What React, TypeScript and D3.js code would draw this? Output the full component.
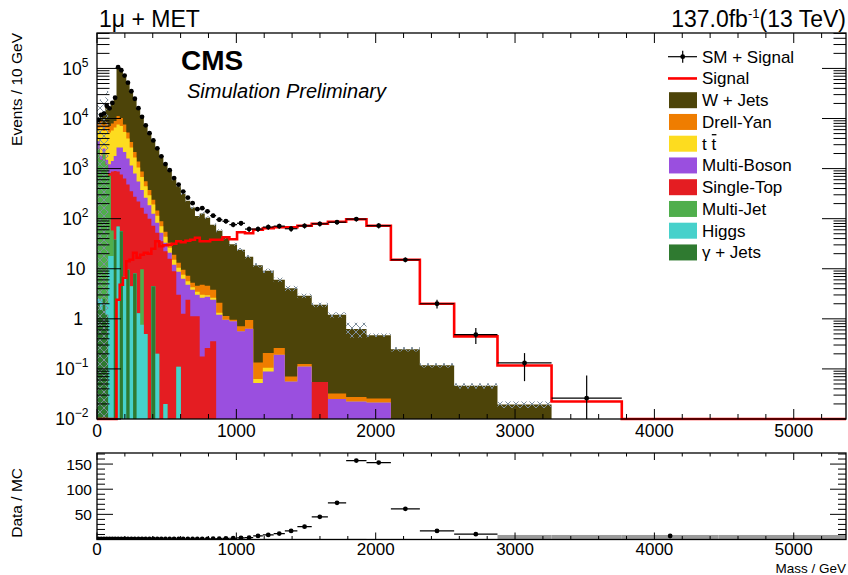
import React from "react";
import * as d3 from "d3";

// Variable-width mass bins in GeV; the last bin only carries the empty tail.
const binEdges = [
  0, 20, 40, 60, 80, 100, 120, 140, 163, 186,
  210, 234, 259, 284, 310, 336, 363, 390, 418, 447,
  476, 506, 537, 569, 602, 635, 669, 703, 737, 773,
  812, 855, 900, 950, 1005, 1062, 1121, 1190, 1268, 1348,
  1438, 1541, 1657, 1788, 1934, 2109, 2317, 2563, 2874, 3262,
  3766, 4460, 5375,
];

// Background processes, events / 10 GeV per bin
const wJets = [
  1607, 3110, 3634, 9465, 9517, 12010, 17390, 95932, 80968, 64858,
  47233, 32093, 22409, 14838, 9844, 6682, 4757, 3391, 2367, 1649,
  1147, 870, 595, 431, 303, 220, 161, 108, 122, 100,
  72.2, 55.4, 40.5, 29.9, 23.3, 16.4, 11.6, 8.91, 5.77, 4.0,
  2.76, 1.85, 1.17, 0.6, 0.447, 0.2475, 0.118, 0.046, 0.0195, 0,
  0, 0,
];
const drellYan = [
  1630, 2306, 1963, 2008, 1831, 2189, 2306, 3634, 3154, 2216,
  1267, 758, 478, 333, 195, 115, 77, 49, 30, 18.3,
  11.3, 6.8, 4.0, 2.7, 1.96, 1.62, 0.98, 1.1, 1.77, 1.62,
  1.17, 0.77, 0.19, 0.064, 0.146, 0.32, 0.072, 0.104, 0.072, 0.0146,
  0.014, 0, 0.0073, 0.0051, 0.0043, 0, 0, 0, 0, 0,
  0, 0,
];
const ttbar = [
  2760, 4800, 3111, 4800, 4030, 4341, 4829, 4956, 4449, 3232,
  2396, 1482, 866, 497, 304, 184, 109, 65, 31.8, 18.3,
  10.6, 5.4, 3.1, 1.8, 1.28, 0.83, 0.47, 0.45, 0.39, 0.2,
  0.23, 0.12, 0, 0, 0, 0, 0.0106, 0.016, 0, 0,
  0, 0, 0, 0, 0, 0, 0, 0, 0, 0,
  0, 0,
];
const multiBoson = [
  1045, 300, 510, 300, 400, 542, 887, 1759, 1871, 1507,
  1106, 793, 519, 331, 206, 137, 86, 53.6, 30.7, 17,
  10.7, 5.1, 3.1, 5.7, 5.05, 2.39, 2.68, 1.9, 2.45, 2.49,
  2.04, 1.2, 0.955, 0.891, 0.562, 0.631, 0.0525, 0.0891, 0.191, 0.0562,
  0.112, 0, 0.0251, 0.0224, 0.0214, 0, 0, 0, 0, 0,
  0, 0,
];
const singleTop = [
  0, 0, 0, 0, 100, 813, 853, 801, 703, 624,
  470, 350, 267, 218, 156, 125, 100, 68, 52.3, 35.5,
  22.4, 15.8, 8.9, 2.9, 1.26, 2.4, 1.12, 1.12, 0.178, 0.263,
  0.355, 0, 0, 0, 0, 0, 0, 0, 0, 0,
  0, 0.055, 0, 0, 0, 0, 0, 0, 0, 0,
  0, 0,
];
const multiJet = [
  2500, 1500, 2000, 1200, 700, 40, 0, 0, 0, 0,
  0, 0, 0, 0, 9, 0, 0, 0, 0, 0,
  0, 0, 0, 0, 0, 0, 0, 0, 0, 0,
  0, 0, 0, 0, 0, 0, 0, 0, 0, 0,
  0, 0, 0, 0, 0, 0, 0, 0, 0, 0,
  0, 0,
];
const higgs = [
  0.5, 1, 0, 0.8, 18, 18, 0, 70, 0, 7,
  0, 4.5, 0, 1.3, 0.76, 0.5, 0, 0, 0.2, 0,
  0.02, 0, 0, 0.11, 0, 0, 0, 0, 0, 0,
  0, 0, 0, 0, 0, 0, 0, 0, 0, 0,
  0, 0, 0, 0, 0, 0, 0, 0, 0, 0,
  0, 0,
];
const gammaJets = [
  2, 1.5, 2.5, 1.2, 0, 0, 38, 0, 56, 0,
  9.5, 0, 8, 0, 0, 0, 0, 4.5, 0, 0,
  0, 0, 0, 0, 0, 0, 0, 0, 0, 0,
  0, 0, 0, 0, 0, 0, 0, 0, 0, 0,
  0, 0, 0, 0, 0, 0, 0, 0, 0, 0,
  0, 0,
];

// Relative MC uncertainty per bin
const mcRelErr = [
  1.0, 1.0, 1.0, 1.0, 0.1, 0.08, 0.06, 0.02, 0.03, 0.03,
  0.03, 0.03, 0.03, 0.03, 0.03, 0.03, 0.03, 0.03, 0.03, 0.04,
  0.04, 0.04, 0.05, 0.05, 0.05, 0.05, 0.05, 0.06, 0.06, 0.06,
  0.06, 0.07, 0.07, 0.07, 0.08, 0.08, 0.1, 0.1, 0.1, 0.12,
  0.1, 0.1, 0.12, 0.33, 0.08, 0.1, 0.1, 0.12, 0.15, 0,
  0, 0,
];

// Signal template, events / 10 GeV
const signal = [
  0, 0, 0, 0, 0, 0, 0, 2.4, 4.8, 6.6,
  14.1, 15.1, 20.9, 16.6, 19.1, 20.9, 20, 25.1, 35.5, 28.2,
  29.5, 30.2, 31.6, 35.5, 33.9, 36.3, 38, 41.7, 35.5, 35.5,
  38, 38, 42.7, 38.9, 53.7, 51.3, 60.3, 64.6, 67.6, 67.6,
  72.4, 79.4, 87.1, 97.7, 72.4, 15.1, 2.0, 0.447, 0.117, 0.0224,
  0.004, 0,
];

// Pseudo-data: SM + Signal, with its uncertainty
const smPlusSignal = [
  9400, 11800, 12500, 18000, 16000, 20500, 26000, 106000, 92000, 72000,
  52000, 35000, 24800, 16100, 10800, 7300, 5100, 3650, 2540, 1760,
  1230, 930, 646, 479, 347, 263, 204, 155, 162, 140,
  115, 95.5, 89, 76, 81, 62, 62, 68, 71, 63,
  72, 79, 85, 98, 72.4, 15.1, 2.0, 0.483, 0.132, 0.026,
  0, 0,
];
const smPlusSignalErr = [
  97, 109, 112, 134, 126, 143, 161, 326, 303, 268,
  228, 187, 157, 127, 104, 85, 71, 60, 50, 42,
  35, 30, 25, 22, 19, 16, 14, 12, 13, 12,
  11, 10, 9.4, 8.7, 9, 7.9, 7.9, 8.2, 8.4, 7.9,
  8.5, 8.9, 9.2, 9.9, 8.5, 1.6, 0.4, 0.17, 0.075, 0.048,
  0, 0,
];

// Data / MC ratio (null where it is not drawn), its error and the band half-width
const ratioValues: (number | null)[] = [
  1.0, 0.98, 1.1, 1.01, 0.96, 1.03, 0.99, 0.99, 1.0, 0.99,
  0.99, 0.98, 1.01, 0.99, 1.01, 1.01, 1.0, 1.01, 1.01, 1.01,
  1.02, 1.03, 1.05, 1.08, 1.11, 1.16, 1.23, 1.37, 1.28, 1.34,
  1.51, 1.66, 2.13, 2.46, 3.37, 3.56, 7.1, 9.1, 11.8, 17,
  25.6, 45, 73, 157, 153, 61, 17, 10.5, null, null,
  7, null,
];
const ratioErr = [
  0.05, 0.05, 0.05, 0.05, 0.05, 0.05, 0.05, 0.05, 0.05, 0.05,
  0.05, 0.05, 0.05, 0.05, 0.05, 0.05, 0.05, 0.05, 0.05, 0.05,
  0.05, 0.05, 0.05, 0.05, 0.05, 0.05, 0.05, 0.1, 0.1, 0.1,
  0.1, 0.1, 0.15, 0.2, 0.25, 0.3, 0.6, 0.7, 0.9, 1.2,
  1.6, 2.2, 2.5, 2.8, 2.6, 1.6, 1.4, 1.4, 0, 0,
  1.0, 0,
];
const ratioBandHalf = [
  1.0, 1.0, 1.0, 1.0, 0.1, 0.08, 0.06, 0.02, 0.03, 0.03,
  0.03, 0.03, 0.03, 0.03, 0.03, 0.03, 0.03, 0.03, 0.03, 0.04,
  0.04, 0.04, 0.05, 0.05, 0.05, 0.05, 0.05, 0.06, 0.06, 0.06,
  0.06, 0.07, 0.07, 0.07, 0.08, 0.08, 0.1, 0.1, 0.1, 0.12,
  0.1, 0.1, 0.12, 0.33, 0.08, 0.1, 0.1, 0.12, 8, 8,
  8, 8,
];

// Processes in legend order (top of the stack first)
const processNames = ["W + Jets", "Drell-Yan", "t t", "Multi-Boson", "Single-Top", "Multi-Jet", "Higgs", "γ + Jets"];
const processColors = ["#4d4409", "#ef7d00", "#fddc1f", "#9a4fdf", "#e41d22", "#4fae4c", "#47d1cb", "#2f7a30"];
const processValues = [wJets, drellYan, ttbar, multiBoson, singleTop, multiJet, higgs, gammaJets];

const yExponents = [-2, -1, 0, 1, 2, 3, 4, 5];
const xMajorTicks = [0, 1000, 2000, 3000, 4000, 5000];
const ratioMajorTicks = [50, 100, 150];

const FONT = "'Liberation Sans', Arial, Helvetica, sans-serif";

type Pt = { x: number; y: number };

export default function App() {
  const left = 97, right = 846;
  const mainTop = 33, mainBottom = 419;
  const ratioTop = 453, ratioBottom = 539.5;
  const yMin = 0.01;

  const x = d3.scaleLinear().domain([0, 5375]).range([left, right]);
  const y = d3.scaleLog().domain([yMin, 5.1e5]).range([mainBottom, mainTop]);
  const yr = d3.scaleLinear().domain([0, 172]).range([ratioBottom, ratioTop]);

  const nBins = binEdges.length - 1;
  const bins = d3.range(nBins);
  const center = (i: number) => (binEdges[i] + binEdges[i + 1]) / 2;

  // cumulative stack, bottom-up (gamma+jets first)
  const stackOrder = [...processValues.keys()].reverse();
  const cumulative: number[][] = [];
  const running = new Array(nBins).fill(0);
  stackOrder.forEach((p) => {
    bins.forEach((i) => (running[i] += processValues[p][i]));
    cumulative[p] = running.slice();
  });
  const totalMC = cumulative[0];

  const yClamp = (v: number) => (v > yMin ? Math.max(y(v), mainTop - 4) : mainBottom);
  const stepPoints = (vals: number[]): Pt[] =>
    vals.flatMap((v, i) => [
      { x: x(binEdges[i]), y: yClamp(v) },
      { x: x(binEdges[i + 1]), y: yClamp(v) },
    ]);
  const area = d3.area<Pt>().x((d) => d.x).y0(mainBottom).y1((d) => d.y);
  const line = d3.line<Pt>().x((d) => d.x).y((d) => d.y);

  // ticks
  const xMinor = d3.range(0, 5375, 200).filter((v) => v % 1000 !== 0);
  const yMinor: number[] = [];
  for (let e = -2; e <= 5; e++) for (let m = 2; m <= 9; m++) {
    const v = m * Math.pow(10, e);
    if (v < 5.1e5) yMinor.push(v);
  }
  const ratioMinor = d3.range(10, 172, 10).filter((v) => v % 50 !== 0);

  const legendY = (k: number) => 56.7 + k * 21.75;

  return (
    <svg width={848} height={575} style={{ position: "absolute", left: 0, top: 0 }} fontFamily={FONT}>
      <defs>
        <clipPath id="mainClip">
          <rect x={left} y={mainTop} width={right - left} height={mainBottom - mainTop + 3} />
        </clipPath>
        <clipPath id="ratioClip">
          <rect x={left} y={ratioTop} width={right - left} height={ratioBottom - ratioTop} />
        </clipPath>
        <pattern id="mcHatch" patternUnits="userSpaceOnUse" width={8} height={8}>
          <path d="M0,0 L8,8 M8,0 L0,8" stroke="#7f8f9c" strokeWidth={1} />
        </pattern>
      </defs>
      <rect x={0} y={0} width={848} height={575} fill="#ffffff" />

      {/* main panel */}
      <g clipPath="url(#mainClip)">
        {processValues.map((_, p) => (
          <path key={p} d={area(stepPoints(cumulative[p])) || ""} fill={processColors[p]} />
        ))}
        {bins.map((i) => {
          const mc = totalMC[i];
          const e = mcRelErr[i];
          if (mc <= 0 || e <= 0) return null;
          const yTop = yClamp(mc * (1 + e));
          const lo = mc * (1 - e);
          const yBot = lo > yMin ? y(lo) : mainBottom;
          return (
            <rect key={i} x={x(binEdges[i])} y={yTop} width={x(binEdges[i + 1]) - x(binEdges[i])}
              height={Math.max(yBot - yTop, 0)} fill="url(#mcHatch)" />
          );
        })}
        <path d={line(stepPoints(signal)) || ""} fill="none" stroke="#ff0000" strokeWidth={2.6} />
        {bins.map((i) => {
          const v = smPlusSignal[i];
          if (v <= yMin) return null;
          const err = smPlusSignalErr[i];
          const cy = y(v);
          const lo = v - err;
          return (
            <g key={i} stroke="#000" strokeWidth={1.2}>
              <line x1={x(binEdges[i])} x2={x(binEdges[i + 1])} y1={cy} y2={cy} />
              <line x1={x(center(i))} x2={x(center(i))} y1={y(v + err)} y2={lo > yMin ? y(lo) : mainBottom} />
              <circle cx={x(center(i))} cy={cy} r={2.4} fill="#000" stroke="none" />
            </g>
          );
        })}
      </g>

      {/* ratio panel */}
      <g clipPath="url(#ratioClip)">
        {bins.map((i) => {
          const h = ratioBandHalf[i];
          const y0 = yr(Math.max(0, 1 - h));
          const y1 = yr(1 + h);
          return (
            <rect key={i} x={x(binEdges[i])} y={y1} width={x(binEdges[i + 1]) - x(binEdges[i])}
              height={Math.max(y0 - y1, 0.6)} fill="#9a9a9a" />
          );
        })}
        {bins.map((i) => {
          const r = ratioValues[i];
          if (r === null) return null;
          const cy = yr(r);
          return (
            <g key={i} stroke="#000" strokeWidth={1.2}>
              {smPlusSignal[i] > 0 && <line x1={x(binEdges[i])} x2={x(binEdges[i + 1])} y1={cy} y2={cy} />}
              <line x1={x(center(i))} x2={x(center(i))} y1={yr(r + ratioErr[i])} y2={yr(r - ratioErr[i])} />
              <circle cx={x(center(i))} cy={cy} r={2.4} fill="#000" stroke="none" />
            </g>
          );
        })}
      </g>

      {/* frames */}
      <rect x={left} y={mainTop} width={right - left} height={mainBottom - mainTop} fill="none" stroke="#000" strokeWidth={1.3} />
      <rect x={left} y={ratioTop} width={right - left} height={ratioBottom - ratioTop} fill="none" stroke="#000" strokeWidth={1.3} />

      {/* ticks */}
      <g stroke="#000" strokeWidth={1}>
        {xMajorTicks.map((v) => (
          <g key={"M" + v}>
            <line x1={x(v)} x2={x(v)} y1={mainBottom} y2={mainBottom - 10} />
            <line x1={x(v)} x2={x(v)} y1={mainTop} y2={mainTop + 10} />
            <line x1={x(v)} x2={x(v)} y1={ratioBottom} y2={ratioBottom - 7} />
            <line x1={x(v)} x2={x(v)} y1={ratioTop} y2={ratioTop + 7} />
          </g>
        ))}
        {xMinor.map((v) => (
          <g key={"m" + v}>
            <line x1={x(v)} x2={x(v)} y1={mainBottom} y2={mainBottom - 5} />
            <line x1={x(v)} x2={x(v)} y1={mainTop} y2={mainTop + 5} />
            <line x1={x(v)} x2={x(v)} y1={ratioBottom} y2={ratioBottom - 3.5} />
            <line x1={x(v)} x2={x(v)} y1={ratioTop} y2={ratioTop + 3.5} />
          </g>
        ))}
        {yExponents.map((e) => {
          const yy = y(Math.pow(10, e));
          return (
            <g key={"ye" + e}>
              <line x1={left} x2={left + 24} y1={yy} y2={yy} />
              <line x1={right} x2={right - 24} y1={yy} y2={yy} />
            </g>
          );
        })}
        {yMinor.map((v, k) => (
          <g key={"ym" + k}>
            <line x1={left} x2={left + 12.5} y1={y(v)} y2={y(v)} />
            <line x1={right} x2={right - 12.5} y1={y(v)} y2={y(v)} />
          </g>
        ))}
        {ratioMajorTicks.map((v) => (
          <g key={"rM" + v}>
            <line x1={left} x2={left + 16} y1={yr(v)} y2={yr(v)} />
            <line x1={right} x2={right - 16} y1={yr(v)} y2={yr(v)} />
          </g>
        ))}
        {ratioMinor.map((v) => (
          <g key={"rm" + v}>
            <line x1={left} x2={left + 8} y1={yr(v)} y2={yr(v)} />
            <line x1={right} x2={right - 8} y1={yr(v)} y2={yr(v)} />
          </g>
        ))}
      </g>

      {/* tick labels */}
      <g fontSize={17.5} fill="#000">
        {xMajorTicks.map((v) => (
          <text key={"xl" + v} x={x(v)} y={437} textAnchor="middle">{v}</text>
        ))}
        {xMajorTicks.map((v) => (
          <text key={"xr" + v} x={x(v)} y={555} textAnchor="middle" fontSize={17}>{v}</text>
        ))}
        {yExponents.map((e) => {
          const yy = y(Math.pow(10, e)) + 6.2;
          if (e === 0) return <text key={"yl" + e} x={83} y={yy} textAnchor="end">1</text>;
          if (e === 1) return <text key={"yl" + e} x={85.5} y={yy} textAnchor="end">10</text>;
          return (
            <text key={"yl" + e} x={88.5} y={yy} textAnchor="end">
              10<tspan fontSize={12} dy={-8}>{e < 0 ? "\u2212" + Math.abs(e) : String(e)}</tspan>
            </text>
          );
        })}
      </g>
      <g fontSize={15.5} fill="#000">
        {ratioMajorTicks.map((v) => (
          <text key={"ry" + v} x={92} y={yr(v) + 5.5} textAnchor="end">{v}</text>
        ))}
      </g>

      {/* axis titles */}
      <text transform="translate(22,33) rotate(-90)" textAnchor="end" fontSize={15.5}>Events / 10 GeV</text>
      <text transform="translate(22,468) rotate(-90)" textAnchor="end" fontSize={15.5}>Data / MC</text>
      <text x={846} y={572.5} textAnchor="end" fontSize={13.5}>Mass / GeV</text>

      {/* headers */}
      <text x={99} y={27} fontSize={23}>1μ + MET</text>
      <text x={846} y={27} textAnchor="end" fontSize={23}>
        137.0fb<tspan fontSize={13} dy={-9}>-1</tspan><tspan dy={9}>(13 TeV)</tspan>
      </text>
      <text x={181} y={70} fontSize={28} fontWeight="bold">CMS</text>
      <text x={187} y={98} fontSize={20} fontStyle="italic">Simulation Preliminary</text>

      {/* legend */}
      <g fontSize={17}>
        <g stroke="#000" strokeWidth={1.2}>
          <line x1={668} x2={697} y1={legendY(0)} y2={legendY(0)} />
          <line x1={682.7} x2={682.7} y1={legendY(0) - 6} y2={legendY(0) + 6} />
          <circle cx={682.7} cy={legendY(0)} r={2.4} fill="#000" stroke="none" />
        </g>
        <text x={702} y={legendY(0) + 6}>SM + Signal</text>
        <line x1={668} x2={697} y1={legendY(1)} y2={legendY(1)} stroke="#ff0000" strokeWidth={2.6} />
        <text x={702} y={legendY(1) + 6}>Signal</text>
        {processNames.map((name, p) => {
          const yc = legendY(p + 2);
          return (
            <g key={name}>
              <rect x={669} y={yc - 8} width={28} height={16} fill={processColors[p]} />
              <text x={702} y={yc + 6}>{name}</text>
              {name === "t t" && (
                <line x1={711.8} x2={716.4} y1={yc - 9} y2={yc - 9} stroke="#000" strokeWidth={1.3} />
              )}
            </g>
          );
        })}
      </g>
    </svg>
  );
}
